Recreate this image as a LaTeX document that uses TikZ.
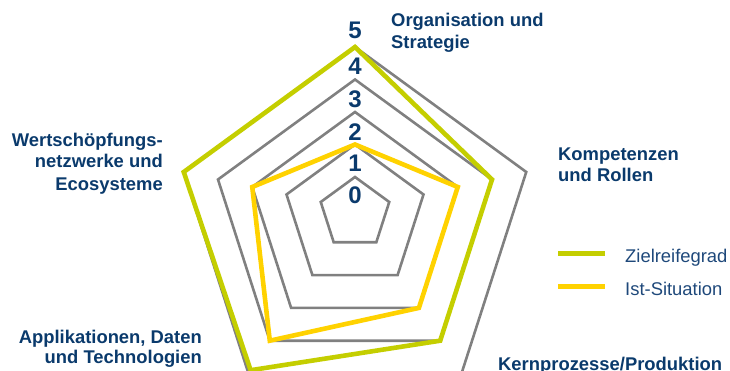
\documentclass[tikz,border=0pt]{standalone}
\usepackage{fontspec}
\setmainfont{Liberation Sans}
\definecolor{gridgray}{RGB}{128,128,128}
\definecolor{zielgreen}{RGB}{196,206,0}
\definecolor{istyellow}{RGB}{255,210,0}
\definecolor{navy}{RGB}{10,58,108}
\definecolor{legblue}{RGB}{30,72,122}
\begin{document}
\begin{tikzpicture}[x=1pt,y=-1pt,
  grid/.style={draw=gridgray,line width=2.6pt,line join=miter},
  target/.style={draw=zielgreen,line width=4.6pt,line join=miter},
  actual/.style={draw=istyellow,line width=4.6pt,line join=miter},
  axislabel/.style={font=\fontsize{18.4}{21}\selectfont\bfseries,text=navy,inner sep=0pt},
  lvl/.style={font=\fontsize{24}{24}\selectfont\bfseries,text=navy,inner sep=0pt},
  legtext/.style={font=\fontsize{18.4}{21}\selectfont,text=legblue,inner sep=0pt,anchor=base west}]
\useasboundingbox (0,0) rectangle (730,371);
\clip (0,0) rectangle (730,371);
\begin{scope}[shift={(355,209.5)}]
  \foreach \k in {1,...,5}
    \draw[grid] (0,{-32.5*\k}) -- ({34.25*\k},{-7.5*\k}) -- ({21.3*\k},{32.8*\k})
      -- ({-21.3*\k},{32.8*\k}) -- ({-34.25*\k},{-7.5*\k}) -- cycle;
  % Zielreifegrad
  \draw[target] (0,{-32.5*5}) -- ({34.25*4},{-7.5*4}) -- ({21.3*4},{32.8*4})
      -- ({-21.3*4.9},{32.8*4.9}) -- ({-34.25*5},{-7.5*5}) -- cycle;
  % Ist-Situation
  \draw[actual] (0,{-32.5*2}) -- ({34.25*3},{-7.5*3}) -- ({21.3*3},{32.8*3})
      -- ({-21.3*4},{32.8*4}) -- ({-34.25*3},{-7.5*3}) -- cycle;
\end{scope}
% level numbers
\node[lvl] (l0) at (355,195) {0};
\node[lvl] (l1) at (355,163.5) {1};
\node[lvl] (l2) at (355,132.5) {2};
\node[lvl] (l3) at (355,99.5) {3};
\node[lvl] (l4) at (355,66) {4};
\node[lvl] (l5) at (355,30.5) {5};
% axis labels
\node[axislabel,anchor=base west] (org1) at (391,27) {Organisation und};
\node[axislabel,anchor=base west] (org2) at (391,49) {Strategie};
\node[axislabel,anchor=base west] (kom1) at (558,160.7) {Kompetenzen};
\node[axislabel,anchor=base west] (kom2) at (558,181.7) {und Rollen};
\node[axislabel,anchor=base east] (wer1) at (163,146.7) {Wertschöpfungs-};
\node[axislabel,anchor=base east] (wer2) at (163,168) {netzwerke und};
\node[axislabel,anchor=base east] (wer3) at (163,190.7) {Ecosysteme};
\node[axislabel,anchor=base east] (app1) at (202,343) {Applikationen, Daten};
\node[axislabel,anchor=base east] (app2) at (202,363) {und Technologien};
\node[axislabel,anchor=base west] (ker1) at (498,370.5) {Kernprozesse/Produktion};
% legend
\coordinate (lg1a) at (558,253);
\coordinate (lg1b) at (605,253);
\coordinate (lg2a) at (558,286.7);
\coordinate (lg2b) at (605,286.7);
\draw[draw=zielgreen,line width=5pt] (lg1a) -- (lg1b);
\draw[draw=istyellow,line width=5pt] (lg2a) -- (lg2b);
\node[legtext] (leg1) at (625,262.7) {Zielreifegrad};
\node[legtext] (leg2) at (625,295) {Ist-Situation};
\end{tikzpicture}
\end{document}
